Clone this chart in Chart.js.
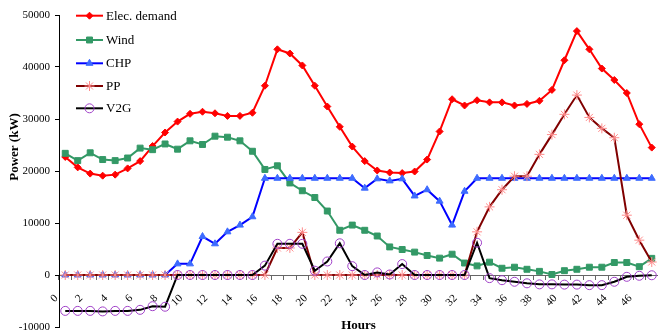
<!DOCTYPE html>
<html><head><meta charset="utf-8">
<script src="https://cdn.jsdelivr.net/npm/chart.js@4"></script>
<style>html,body{margin:0;padding:0;background:#fff}#wrap{width:658px;height:334px}</style>
</head><body><div id="wrap"><canvas id="c" width="658" height="334"></canvas></div>
<script>
const hours = [0,1,2,3,4,5,6,7,8,9,10,11,12,13,14,15,16,17,18,19,20,21,22,23,24,25,26,27,28,29,30,31,32,33,34,35,36,37,38,39,40,41,42,43,44,45,46,47];
const elecDemand = [22700,20700,19500,19100,19300,20500,21900,24800,27400,29500,31000,31400,31100,30600,30600,31200,36400,43400,42600,40300,36400,32400,28500,24700,21900,20100,19700,19600,19900,22200,27600,33800,32600,33600,33200,33200,32600,32900,33500,35600,41300,46900,43400,39700,37500,35000,29000,24500];
const wind = [23400,22000,23500,22200,22000,22500,24400,24100,25200,24200,25800,25100,26700,26500,25800,23800,20300,21000,17700,16200,14900,12300,8600,9600,8600,7500,5400,4900,4400,3750,3240,4000,2300,1750,2470,1300,1500,1100,700,100,830,1100,1500,1500,2400,2400,1600,3200];
const chp = [0,0,0,0,0,0,0,0,0,2140,2140,7400,6000,8300,9600,11200,18600,18600,18600,18600,18600,18600,18600,18600,16700,18500,18100,18500,15200,16400,14200,9600,16100,18600,18600,18600,18600,18600,18600,18600,18600,18600,18600,18600,18600,18600,18600,18600];
const pp = [0,0,0,0,0,0,0,0,0,0,0,0,0,0,0,0,0,5200,5200,8200,0,0,0,0,0,0,0,0,0,0,0,0,0,8300,13100,16400,19000,19000,23200,27000,30900,34600,30300,28200,26400,11500,6700,2500];
const v2g = [-6900,-6900,-6900,-7000,-6900,-6900,-6700,-6000,-6100,0,0,0,0,0,0,0,1800,6000,6000,6000,830,2600,6100,1700,0,500,100,2100,0,0,0,0,0,6200,-600,-1000,-1300,-1600,-1800,-1800,-1850,-1850,-1950,-1950,-1300,-350,-150,-50];
const seriesNames = ['Elec. demand','Wind','CHP','PP','V2G'];
const yTicks = [-10000,0,10000,20000,30000,40000,50000];
const yTitle = 'Power (kW)';
const xTitle = 'Hours';

const styles = [
  {line:'#FF0000', fill:'#FF0000', stroke:'#FF0000', shape:'rectRot', r:3.5, bw:1},
  {line:'#339966', fill:'#339966', stroke:'#339966', shape:'rect', r:4.2, bw:1},
  {line:'#0000FF', fill:'#3D6BFF', stroke:'#3D6BFF', shape:'triangle', r:4, bw:1},
  {line:'#800000', fill:'rgba(0,0,0,0)', stroke:'#FF8C8C', shape:'star', r:5, bw:1},
  {line:'#000000', fill:'rgba(0,0,0,0)', stroke:'#A040C8', shape:'circle', r:4.5, bw:1}
];
const seriesData = [elecDemand, wind, chp, pp, v2g];

const datasets = seriesData.map((d, i) => ({
  label: seriesNames[i], data: d,
  borderColor: styles[i].line, backgroundColor: styles[i].line, borderWidth: 2,
  pointStyle: styles[i].shape, pointRadius: styles[i].r, pointHoverRadius: styles[i].r,
  pointBackgroundColor: styles[i].fill, pointBorderColor: styles[i].stroke, pointBorderWidth: styles[i].bw,
  tension: 0, fill: false, order: 5 - i
}));

function drawMarker(ctx, s, x, y) {
  const r = s.r;
  ctx.save();
  ctx.fillStyle = s.fill; ctx.strokeStyle = s.stroke; ctx.lineWidth = s.bw;
  ctx.beginPath();
  if (s.shape === 'rectRot') {
    ctx.moveTo(x, y - r); ctx.lineTo(x + r, y); ctx.lineTo(x, y + r); ctx.lineTo(x - r, y); ctx.closePath();
    ctx.fill(); ctx.stroke();
  } else if (s.shape === 'rect') {
    const h = r * Math.SQRT1_2; ctx.rect(x - h, y - h, 2 * h, 2 * h); ctx.fill(); ctx.stroke();
  } else if (s.shape === 'triangle') {
    let a = 0;
    ctx.moveTo(x + Math.sin(a) * r, y - Math.cos(a) * r);
    a += 2 * Math.PI / 3; ctx.lineTo(x + Math.sin(a) * r, y - Math.cos(a) * r);
    a += 2 * Math.PI / 3; ctx.lineTo(x + Math.sin(a) * r, y - Math.cos(a) * r);
    ctx.closePath(); ctx.fill(); ctx.stroke();
  } else if (s.shape === 'star') {
    ctx.moveTo(x - r, y); ctx.lineTo(x + r, y); ctx.moveTo(x, y - r); ctx.lineTo(x, y + r);
    const d = r * Math.SQRT1_2;
    ctx.moveTo(x - d, y - d); ctx.lineTo(x + d, y + d); ctx.moveTo(x - d, y + d); ctx.lineTo(x + d, y - d);
    ctx.stroke();
  } else {
    ctx.arc(x, y, r, 0, Math.PI * 2); ctx.fill(); ctx.stroke();
  }
  ctx.restore();
}

const decorPlugin = {
  id: 'decor',
  afterDraw(chart) {
    const ctx = chart.ctx;
    const ca = chart.chartArea;
    ctx.save();
    const legendY = [15.7, 40, 63.3, 86, 108.3];
    ctx.font = '13px "Liberation Serif"';
    ctx.textAlign = 'left'; ctx.textBaseline = 'middle';
    seriesNames.forEach((name, i) => {
      const y = legendY[i];
      ctx.strokeStyle = styles[i].line; ctx.lineWidth = 2;
      ctx.beginPath(); ctx.moveTo(76, y); ctx.lineTo(103, y); ctx.stroke();
      drawMarker(ctx, styles[i], 89.5, y);
      ctx.fillStyle = '#000';
      ctx.fillText(name, 106, y + 0.5);
    });
    ctx.font = 'bold 13px "Liberation Serif"';
    ctx.fillStyle = '#000';
    ctx.textAlign = 'center'; ctx.textBaseline = 'middle';
    ctx.fillText(xTitle, (ca.left + ca.right) / 2, 326);
    ctx.translate(15, 147); ctx.rotate(-Math.PI / 2);
    ctx.fillText(yTitle, 0, 0);
    ctx.restore();
  }
};

new Chart(document.getElementById('c'), {
  type: 'line',
  data: { labels: hours, datasets: datasets },
  options: {
    responsive: false, animation: false, devicePixelRatio: 1,
    layout: { padding: { top: 15, bottom: 7, left: 0, right: 0 }, autoPadding: false },
    plugins: { legend: { display: false }, tooltip: { enabled: false } },
    scales: {
      x: {
        type: 'category', position: { y: 0 }, offset: true,
        grid: { display: true, drawOnChartArea: false, drawTicks: true, tickLength: 4, offset: true, color: '#666' },
        border: { display: true, color: '#666', width: 1 },
        ticks: {
          autoSkip: false, maxRotation: 45, minRotation: 45, padding: 13, labelOffset: -9,
          color: '#000', font: { family: 'Liberation Serif', size: 11 },
          callback: function (v, i) { return i % 2 === 0 ? String(hours[i]) : ''; }
        },
        afterFit: s => { s.paddingLeft = 0; s.paddingRight = 0; }
      },
      y: {
        min: -10000, max: 50000,
        afterBuildTicks: s => { s.ticks = yTicks.map(v => ({ value: v })); },
        ticks: { padding: 5, color: '#000', font: { family: 'Liberation Serif', size: 11 }, callback: v => String(v) },
        grid: { display: true, drawOnChartArea: false, tickLength: 4, color: '#000' },
        border: { display: true, color: '#000', width: 1 },
        afterFit: s => { s.width = 59; s.paddingTop = 0; s.paddingBottom = 0; }
      }
    }
  },
  plugins: [decorPlugin]
});
</script>
</body></html>
